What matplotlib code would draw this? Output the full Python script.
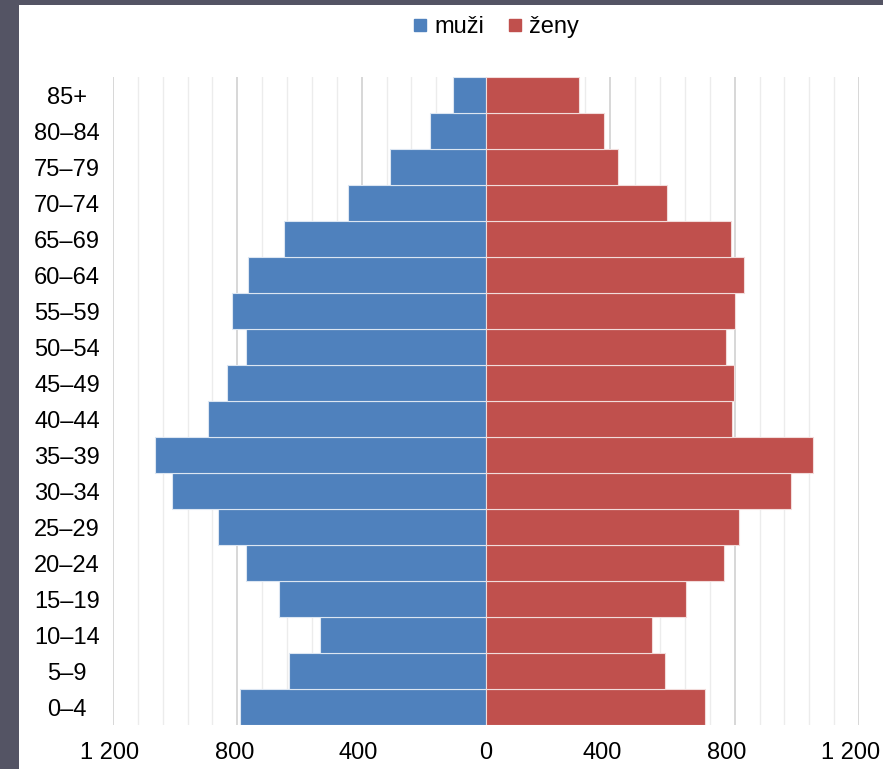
import matplotlib.pyplot as plt
import numpy as np
from matplotlib.lines import Line2D
from matplotlib.patches import Rectangle
from matplotlib.ticker import MultipleLocator, FixedLocator
from matplotlib.transforms import ScaledTranslation

plt.rcParams['font.family'] = ['Liberation Sans', 'DejaVu Sans']

age_groups = ['0–4', '5–9', '10–14', '15–19', '20–24', '25–29', '30–34', '35–39',
              '40–44', '45–49', '50–54', '55–59', '60–64', '65–69', '70–74',
              '75–79', '80–84', '85+']
muzi = [790, 633, 535, 665, 772, 862, 1010, 1064, 893, 834, 772, 817, 767, 651,
        444, 310, 180, 107]
zeny = [703, 577, 533, 644, 766, 815, 982, 1053, 792, 798, 771, 801, 830, 788,
        582, 425, 381, 299]
x_ticks = [-1200, -800, -400, 0, 400, 800, 1200]
x_labels = ['1 200', '800', '400', '0', '400', '800', '1 200']

BLUE = '#4F81BD'
RED = '#C0504D'

W, H = 883, 769
fig = plt.figure(figsize=(W / 100, H / 100), dpi=100)
fig.patch.set_facecolor('#545464')
# white card inside the dark frame
fig.patches.append(Rectangle((19 / W, 0), 1 - 19 / W, 764 / H, transform=fig.transFigure,
                             facecolor='white', edgecolor='none', zorder=-10))

ax = fig.add_axes([113 / W, 44 / H, (859 - 113) / W, (725 - 77) / H])
ax.set_facecolor('none')

y = np.arange(len(age_groups))
ax.barh(y, -np.array(muzi), height=1.0, color=BLUE, edgecolor='#dce6f2', linewidth=0.8, zorder=3)
ax.barh(y, zeny, height=1.0, color=RED, edgecolor='#f2dcdb', linewidth=0.8, zorder=3)

ax.set_xlim(-1200, 1200)
ax.set_ylim(-0.5, len(age_groups) - 0.5)

ax.xaxis.set_major_locator(FixedLocator(x_ticks))
ax.xaxis.set_minor_locator(MultipleLocator(80))
ax.set_xticklabels([])
ax.grid(axis='x', which='minor', color='#ececec', linewidth=1.0, zorder=0)
ax.grid(axis='x', which='major', color='#d4d4d4', linewidth=1.3, zorder=0)
ax.set_axisbelow(True)

# x labels drawn by hand: in the original they sit a bit left of their ticks
xtrans = ax.get_xaxis_transform()
for t, lab in zip(x_ticks, x_labels):
    dx = -8 if t > 0 else (-3 if t < 0 else 0)
    tr = xtrans + ScaledTranslation(dx / 100, -28 / 100, fig.dpi_scale_trans)
    ax.text(t, 0, lab, transform=tr, ha='center', va='center', fontsize=17, clip_on=False)

ax.set_yticks(y)
ax.set_yticklabels(age_groups, fontsize=17, ha='center', va='center_baseline')
ax.tick_params(axis='y', length=0, pad=33)
ax.tick_params(axis='x', which='both', length=0)
for s in ax.spines.values():
    s.set_visible(False)

handles = [Line2D([], [], marker='s', linestyle='none', markersize=9, color=BLUE, label='muži'),
           Line2D([], [], marker='s', linestyle='none', markersize=9, color=RED, label='ženy')]
fig.legend(handles=handles, loc='center', bbox_to_anchor=(496 / W, 1 - 27 / H), ncol=2,
           frameon=False, fontsize=17, handlelength=0.6, handletextpad=0.3, columnspacing=1.0)

fig.savefig('out.png', dpi=100, facecolor=fig.get_facecolor())
